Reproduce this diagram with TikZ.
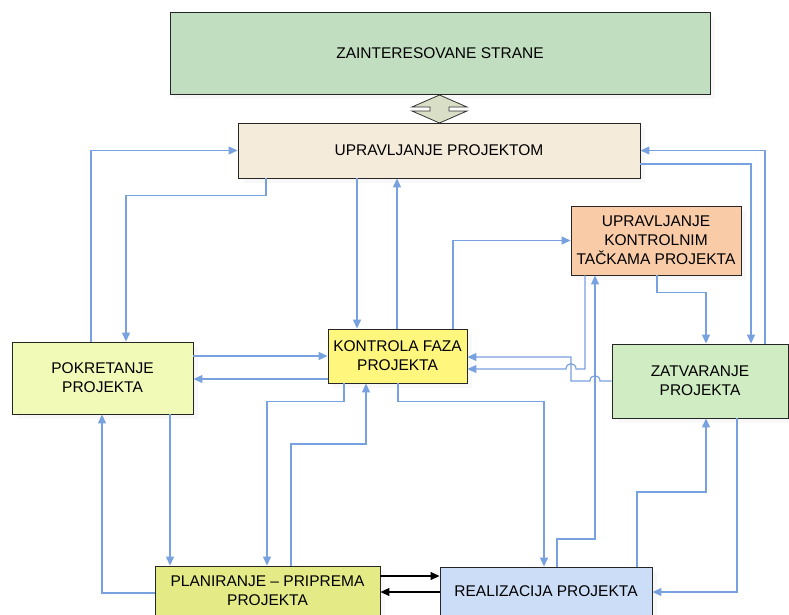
\documentclass[tikz,border=0pt]{standalone}
\usepackage{fontspec}
\setmainfont{Liberation Sans}
\usetikzlibrary{arrows.meta,shadows}
\definecolor{zsgreen}{HTML}{C2DEC0}
\definecolor{uprbeige}{HTML}{F5EBDB}
\definecolor{uktorange}{HTML}{F9CCA7}
\definecolor{kfpyellow}{HTML}{FFF67E}
\definecolor{pokyellow}{HTML}{F2FAB7}
\definecolor{zatgreen}{HTML}{D0ECC2}
\definecolor{planyellow}{HTML}{E4EA86}
\definecolor{realblue}{HTML}{CCDDF7}
\definecolor{dblfill}{HTML}{D9DFC6}
\definecolor{lineblue}{HTML}{78A1E0}

\begin{document}
\begin{tikzpicture}[x=1pt,y=-1pt,
  box/.style={draw=black!85, line width=0.9pt, inner sep=0pt, align=center,
    font=\fontsize{15.5}{19}\selectfont,
    drop shadow={fill=black!5, shadow xshift=5pt, shadow yshift=-5pt}},
  conn/.style={draw=lineblue, line width=1.2pt, -{Triangle[length=9pt,width=8pt]}},
  blk/.style={draw=black, line width=1.1pt, -{Triangle[length=9pt,width=8pt]}}]
  \fill[white] (0,0) rectangle (789,614);
  \useasboundingbox (0,0) rectangle (789,614);
  \clip (0,0) rectangle (789,614);

  \draw (440,53) node[box, fill=zsgreen, minimum width=540, minimum height=82] (zs) {ZAINTERESOVANE STRANE};
  \draw (439,150.5) node[box, fill=uprbeige, minimum width=402, minimum height=55] (upr) {UPRAVLJANJE PROJEKTOM};
  \draw (656,240.5) node[box, fill=uktorange, minimum width=170, minimum height=69] (ukt) {UPRAVLJANJE\\KONTROLNIM\\TAČKAMA PROJEKTA};
  \draw (397.5,356) node[box, fill=kfpyellow, minimum width=139, minimum height=54] (kfp) {KONTROLA FAZA\\PROJEKTA};
  \draw (102.5,378) node[box, fill=pokyellow, minimum width=181, minimum height=72] (pok) {POKRETANJE\\PROJEKTA};
  \draw (700,381) node[box, fill=zatgreen, minimum width=176, minimum height=74] (zat) {ZATVARANJE\\PROJEKTA};
  \draw (267.5,591) node[box, fill=planyellow, minimum width=225, minimum height=50] (plan) {PLANIRANJE -- PRIPREMA\\PROJEKTA};
  \draw (546,591) node[box, fill=realblue, minimum width=212, minimum height=48] (real) {REALIZACIJA PROJEKTA};

  \draw[line width=0.8pt, draw=black!80, fill=dblfill] (439.5,95) -- (467,107) -- (449,107) -- (449,111) -- (467,111)
    -- (439.5,123) -- (412,111) -- (430,111) -- (430,107) -- (412,107) -- cycle;

  \draw[conn] (91,0 |- pok.north) |- (upr.west);
  \draw[conn] (266,0 |- upr.south) -- ++(0,17) -| (126,0 |- pok.north);
  \draw[conn] (357,0 |- upr.south) -- (357,0 |- kfp.north);
  \draw[conn] (397,0 |- kfp.north) -- (397,0 |- upr.south);
  \draw[conn] (453,0 |- kfp.north) |- (ukt.west);
  \draw[conn] (upr.east |- 0,164) -| (751,0 |- zat.north);
  \draw[conn] (765,0 |- zat.north) |- (upr.east);
  \draw[conn] (657,0 |- ukt.south) -- ++(0,17) -| (706,0 |- zat.north);
  \draw[conn] (585,0 |- ukt.south) -- (585,369) -- (576,369) .. controls (576,362) and (566,362) .. (566,369) -- (kfp.east |- 0,369);
  \draw[conn] (zat.west |- 0,381) -- (600,381) .. controls (600,374) and (590,374) .. (590,381) -- (571,381) |- (kfp.east |- 0,357);
  \draw[conn] (557,0 |- real.north) |- (595,539) -- (595,0 |- ukt.south);
  \draw[conn] (398,0 |- kfp.south) -- ++(0,18) -| (544,0 |- real.north);
  \draw[conn] (344,0 |- kfp.south) -- ++(0,18) -| (267,0 |- plan.north);
  \draw[conn] (291,0 |- plan.north) |- (366,444) -- (366,0 |- kfp.south);
  \draw[conn] (pok.east |- 0,356) -- (kfp.west |- 0,356);
  \draw[conn] (kfp.west |- 0,379) -- (pok.east |- 0,379);
  \draw[conn] (170,0 |- pok.south) -- (170,0 |- plan.north);
  \draw[conn] (plan.west |- 0,593) -| (102,0 |- pok.south);
  \draw[conn] (637,0 |- real.north) |- (706,492) -- (706,0 |- zat.south);
  \draw[conn] (737,0 |- zat.south) |- (real.east |- 0,592);

  \draw[blk] (plan.east |- 0,576) -- (real.west |- 0,576);
  \draw[blk] (real.west |- 0,592) -- (plan.east |- 0,592);
\end{tikzpicture}
\end{document}
